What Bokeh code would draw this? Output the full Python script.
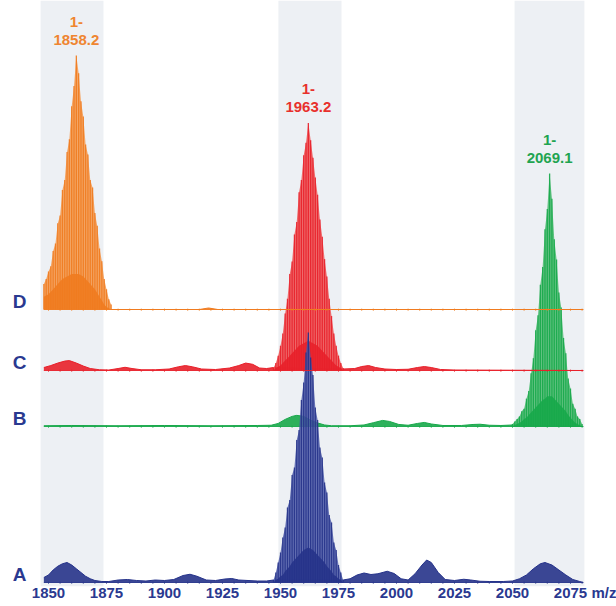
import numpy as np
from bokeh.plotting import figure
from bokeh.models import Range1d, FixedTicker, BoxAnnotation
from bokeh.core.properties import value
from bokeh.embed import file_html
from bokeh.resources import INLINE

# ---------------- data ----------------
x_ticks = [1850, 1875, 1900, 1925, 1950, 1975, 2000, 2025, 2050, 2075]
unit_pos = 2090
unit_label = "m/z"

trace_names = ["A", "B", "C", "D"]
mz_min, mz_max = 1848, 2080.5

# shaded m/z windows
band_start = [1846.6, 1949.1, 2050.9]
band_end = [1873.7, 1976.3, 2081.0]

# annotated clusters
label_charge = ["1-", "1-", "1-"]
label_mass = ["1858.2", "1963.2", "2069.1"]

# main isotope clusters: first m/z (1 Da sticks), stick heights and valley heights (fraction of apex)
A_first = 1947
A_sticks = [0.01, 0.04, 0.08, 0.12, 0.18, 0.22, 0.30, 0.33, 0.43, 0.46, 0.57, 0.61, 0.73, 0.80, 0.92,
            1.00, 0.90, 0.83, 0.70, 0.65, 0.54, 0.50, 0.40, 0.36, 0.27, 0.24, 0.16, 0.13, 0.07, 0.04, 0.01]
A_valley = [0.0, 0.01, 0.015, 0.025, 0.03, 0.045, 0.055, 0.065, 0.08, 0.09, 0.10, 0.11, 0.12, 0.13, 0.135,
            0.14, 0.135, 0.13, 0.12, 0.11, 0.10, 0.09, 0.08, 0.065, 0.055, 0.045, 0.03, 0.025, 0.015, 0.01, 0.0]
A_apex = 100

B_first = 2050
B_sticks = [0.01, 0.02, 0.03, 0.04, 0.06, 0.07, 0.11, 0.14, 0.21, 0.27, 0.38, 0.44, 0.56, 0.63, 0.78, 0.86,
            1.00, 0.90, 0.74, 0.66, 0.53, 0.47, 0.35, 0.29, 0.19, 0.15, 0.09, 0.07, 0.04, 0.03, 0.01]
B_valley = [0.0, 0.005, 0.01, 0.015, 0.02, 0.03, 0.035, 0.045, 0.055, 0.065, 0.075, 0.085, 0.095, 0.105, 0.11, 0.12,
            0.12, 0.12, 0.11, 0.10, 0.09, 0.08, 0.07, 0.06, 0.045, 0.035, 0.025, 0.015, 0.01, 0.005, 0.0]
B_apex = 101.2

C_first = 1947
C_sticks = [0.01, 0.03, 0.06, 0.10, 0.15, 0.23, 0.29, 0.39, 0.44, 0.55, 0.60, 0.72, 0.77, 0.87, 0.92,
            1.00, 0.93, 0.86, 0.78, 0.71, 0.61, 0.54, 0.45, 0.38, 0.29, 0.22, 0.15, 0.10, 0.06, 0.03, 0.01]
C_valley = [0.0, 0.01, 0.015, 0.02, 0.03, 0.04, 0.05, 0.06, 0.07, 0.08, 0.09, 0.10, 0.105, 0.11, 0.115,
            0.12, 0.115, 0.11, 0.105, 0.10, 0.09, 0.08, 0.07, 0.06, 0.05, 0.04, 0.03, 0.02, 0.015, 0.01, 0.0]
C_apex = 99

D_first = 1848
D_sticks = [0.10, 0.12, 0.15, 0.17, 0.23, 0.26, 0.34, 0.37, 0.47, 0.51, 0.62, 0.67, 0.80, 0.88,
            1.00, 0.93, 0.82, 0.76, 0.65, 0.61, 0.51, 0.48, 0.38, 0.33, 0.24, 0.19, 0.12, 0.08, 0.04, 0.02]
D_valley = [0.05, 0.055, 0.06, 0.07, 0.08, 0.09, 0.10, 0.11, 0.12, 0.125, 0.13, 0.135, 0.14, 0.14,
            0.14, 0.14, 0.135, 0.13, 0.12, 0.11, 0.10, 0.09, 0.08, 0.065, 0.05, 0.035, 0.02, 0.01, 0.005, 0.0]
D_apex = 101.6

# minor signals (m/z, fraction of apex)
A_minor = [(1848, 0.02), (1850, 0.03), (1852, 0.05), (1854, 0.065), (1856, 0.075), (1858, 0.08), (1860, 0.07),
           (1862, 0.055), (1864, 0.04), (1866, 0.025), (1868, 0.015), (1870, 0.008), (1873, 0.004), (1876, 0.004),
           (1880, 0.01), (1884, 0.012), (1888, 0.008), (1892, 0.006), (1896, 0.01), (1900, 0.008), (1904, 0.012),
           (1908, 0.028), (1911, 0.033), (1914, 0.025), (1918, 0.01), (1922, 0.008), (1926, 0.014), (1929, 0.016),
           (1932, 0.01), (1936, 0.008), (1940, 0.006), (1944, 0.006), (1947, 0.01), (1977, 0.01), (1980, 0.015),
           (1983, 0.03), (1986, 0.038), (1989, 0.032), (1992, 0.035), (1996, 0.045), (1999, 0.036), (2002, 0.015),
           (2005, 0.01), (2008, 0.035), (2011, 0.07), (2013, 0.09), (2015, 0.08), (2018, 0.04), (2021, 0.012),
           (2025, 0.008), (2029, 0.013), (2032, 0.01), (2036, 0.005), (2040, 0.004), (2046, 0.004), (2050, 0.006),
           (2053, 0.015), (2056, 0.03), (2059, 0.055), (2062, 0.075), (2064, 0.08), (2067, 0.07), (2070, 0.05),
           (2073, 0.03), (2076, 0.012), (2079, 0.004), (2080.5, 0.0)]
B_minor = [(1848, 0.003), (1860, 0.004), (1880, 0.003), (1900, 0.004), (1920, 0.003), (1940, 0.004), (1946, 0.005),
           (1949, 0.012), (1952, 0.028), (1955, 0.04), (1957, 0.044), (1960, 0.04), (1963, 0.025), (1966, 0.014),
           (1969, 0.006), (1972, 0.003), (1980, 0.003), (1986, 0.006), (1990, 0.015), (1994, 0.024), (1997, 0.02),
           (2001, 0.008), (2005, 0.005), (2009, 0.012), (2012, 0.016), (2015, 0.01), (2020, 0.004), (2028, 0.004),
           (2033, 0.008), (2036, 0.009), (2040, 0.005), (2045, 0.004), (2050, 0.006), (2080.5, 0.0)]
C_minor = [(1848, 0.012), (1851, 0.02), (1854, 0.03), (1857, 0.038), (1859, 0.04), (1862, 0.03), (1865, 0.018),
           (1868, 0.008), (1872, 0.003), (1876, 0.002), (1880, 0.008), (1883, 0.013), (1886, 0.008), (1890, 0.003),
           (1896, 0.003), (1902, 0.006), (1906, 0.015), (1909, 0.02), (1912, 0.015), (1916, 0.006), (1922, 0.004),
           (1928, 0.01), (1932, 0.02), (1935, 0.03), (1938, 0.025), (1941, 0.01), (1944, 0.008), (1947, 0.012),
           (1977, 0.006), (1982, 0.008), (1985, 0.016), (1988, 0.02), (1991, 0.012), (1995, 0.006), (2000, 0.004),
           (2005, 0.005), (2009, 0.012), (2012, 0.016), (2015, 0.012), (2019, 0.004), (2025, 0.002), (2080.5, 0.0)]
D_minor = [(1877, 0.0), (1915, 0.0), (1919, 0.006), (1923, 0.0), (2080.5, 0.0)]

# ---------------- layout / style ----------------
offsets = {"A": 1.6, "B": 64.0, "C": 86.4, "D": 110.8}
colors = {"A": "#26338a", "B": "#17a84a", "C": "#e8202a", "D": "#f07b1f"}
lights = {"A": "#4c5aa8", "B": "#48ba6c", "C": "#ef5454", "D": "#f5994c"}
label_colors = {"D": "#ef8530", "C": "#e8302c", "B": "#1fa450"}
navy = "#2a3990"
FONT = value("Liberation Sans")

p = figure(width=616, height=606, output_backend="svg", toolbar_location=None,
           x_range=Range1d(1829.31, 2094.83), y_range=Range1d(0, 234.4),
           y_axis_location=None, x_axis_location="below")
p.min_border = 0
p.min_border_bottom = 20
p.outline_line_color = None
p.grid.visible = False
p.background_fill_color = "white"
p.border_fill_color = "white"

for s, e in zip(band_start, band_end):
    p.add_layout(BoxAnnotation(left=s, right=e, fill_color="#edf0f4", fill_alpha=1.0,
                               line_alpha=0, level="underlay"))

series = {
    "A": (A_first, A_sticks, A_valley, A_apex, A_minor),
    "B": (B_first, B_sticks, B_valley, B_apex, B_minor),
    "C": (C_first, C_sticks, C_valley, C_apex, C_minor),
    "D": (D_first, D_sticks, D_valley, D_apex, D_minor),
}
tick_mz = list(range(1850, 2081, 5))


def draw_baseline(name):
    off = offsets[name]
    col = colors[name]
    p.line(x=[mz_min, mz_max], y=[off, off], line_color=col, line_width=1.1, line_alpha=0.9)
    p.segment(x0=tick_mz, y0=[off - 0.6] * len(tick_mz), x1=tick_mz, y1=[off + 0.4] * len(tick_mz),
              line_color=col, line_width=1, line_alpha=0.6)


def draw_series(name):
    first, sticks, valley, apex, minor = series[name]
    off = offsets[name]
    col = colors[name]
    mz = first + np.arange(len(sticks))
    top = off + apex * np.array(sticks)
    low = off + apex * np.array(valley)
    hx = [m for m, _ in minor]
    hy = [off + apex * v for _, v in minor]
    p.varea(x=hx, y1=[off] * len(hx), y2=hy, fill_color=col, fill_alpha=0.9)
    p.line(x=hx, y=hy, line_color=col, line_width=1)
    p.varea(x=mz, y1=[off] * len(mz), y2=top, fill_color=lights[name], fill_alpha=0.85)
    p.segment(x0=mz, y0=[off] * len(mz), x1=mz, y1=top, line_color=col, line_width=1.3, line_alpha=0.9)
    p.varea(x=mz, y1=[off] * len(mz), y2=low, fill_color=col, fill_alpha=0.9)


draw_series("B")
draw_baseline("B")
draw_series("C")
draw_series("D")
draw_series("A")
draw_baseline("A")
draw_baseline("C")
draw_baseline("D")

# trace letters
letter_x = 1837.5
p.text(x=[letter_x] * 4, y=[offsets[n] for n in trace_names], text=trace_names,
       text_font=FONT, text_font_style="bold", text_font_size="19px", text_color=navy,
       text_align="center", text_baseline="middle", y_offset=-8)

# peak labels
lab_series = ["D", "C", "B"]
lx, ly, lc = [], [], []
for n in lab_series:
    first, sticks, valley, apex, minor = series[n]
    i = int(np.argmax(sticks))
    lx.append(first + i)
    ly.append(offsets[n] + apex * sticks[i])
    lc.append(label_colors[n])
p.text(x=lx, y=ly, text=label_mass, text_color=lc, text_font=FONT, text_font_style="bold",
       text_font_size="15px", text_align="center", text_baseline="middle", y_offset=-16)
p.text(x=lx, y=ly, text=label_charge, text_color=lc, text_font=FONT, text_font_style="bold",
       text_font_size="15px", text_align="center", text_baseline="middle", y_offset=-34)

ax = p.xaxis[0]
ax.ticker = FixedTicker(ticks=x_ticks + [unit_pos])
ax.major_label_overrides = {unit_pos: unit_label}
ax.axis_line_color = None
ax.major_tick_line_color = None
ax.minor_tick_line_color = None
ax.major_tick_out = 0
ax.major_tick_in = 0
ax.minor_tick_out = 0
ax.minor_tick_in = 0
ax.major_label_standoff = -3
ax.major_label_text_font = "Liberation Sans"
ax.major_label_text_font_style = "bold"
ax.major_label_text_font_size = "15px"
ax.major_label_text_color = navy

open("out.html", "w").write(file_html(p, INLINE))
